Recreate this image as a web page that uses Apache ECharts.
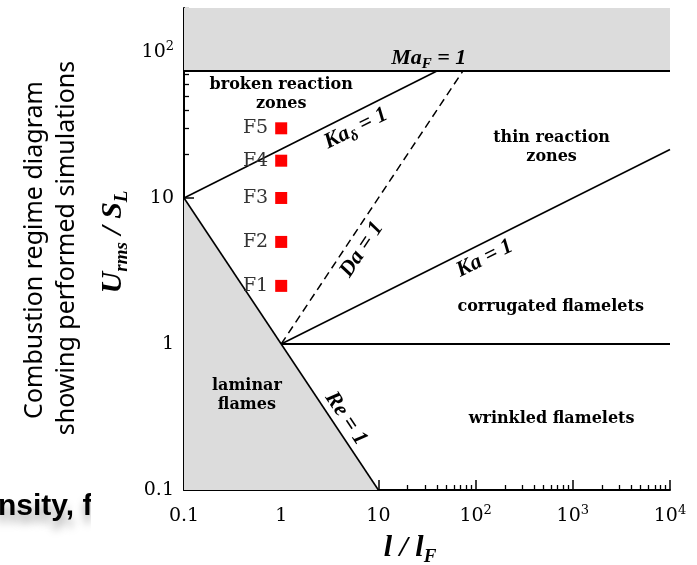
<!DOCTYPE html>
<html>
<head>
<meta charset="utf-8">
<script src="https://cdn.jsdelivr.net/npm/echarts@6/dist/echarts.min.js"></script>
<style>
  html, body { margin: 0; padding: 0; background: #fff; }
  #chart { width: 697px; height: 565px; }
</style>
</head>
<body>
<div id="chart"></div>
<script>
// Regime boundaries, as [l/lF, u'/SL] end points
const reOne = [[0.1, 10], [10, 0.1]];
const kaOne = [[1, 1], [10000, 21.5]];
const kaDeltaOne = [[0.1, 10], [40, 74]];
const daOne = [[1, 1], [74, 74]];
const unitVelocity = [[1, 1], [10000, 1]];
const maOne = [[0.1, 74], [10000, 74]];

// Simulated flames
const flameNames = ['F1', 'F2', 'F3', 'F4', 'F5'];
const flameLength = [1, 1, 1, 1, 1];
const flameVelocity = [2.5, 5, 10, 18, 30];

// Axis ticks
const xMajorTicks = [0.1, 1, 10, 100, 1000, 10000];
const xMinorTicks = [0.2, 0.3, 0.4, 0.5, 0.6, 0.7, 0.8, 0.9,
  2, 3, 4, 5, 6, 7, 8, 9,
  20, 30, 40, 50, 60, 70, 80, 90,
  200, 300, 400, 500, 600, 700, 800, 900,
  2000, 3000, 4000, 5000, 6000, 7000, 8000, 9000];
const yMajorTicks = [0.1, 1, 10, 100];
const yMinorTicks = [0.2, 0.3, 0.4, 0.5, 0.6, 0.7, 0.8, 0.9,
  2, 3, 4, 5, 6, 7, 8, 9,
  20, 30, 40, 50, 60, 70, 80, 90, 200];

const serif = 'DejaVu Serif';
const mathFont = 'Liberation Serif';

function powerLabel(v) {
  const e = Math.round(Math.log10(v));
  if (e >= 2) return '{b|10}{sup|' + e + '}';
  return '{b|' + (e < 0 ? '0.1' : String(Math.round(v))) + '}';
}
const tickRich = {
  b: { fontFamily: serif, fontSize: 19, lineHeight: 24, color: '#000' },
  sup: { fontFamily: serif, fontSize: 13, lineHeight: 13, verticalAlign: 'top', color: '#000' }
};

const mathRich = {
  i: { fontFamily: mathFont, fontWeight: 'bold', fontStyle: 'italic', fontSize: 22, lineHeight: 28, color: '#000' },
  sub: { fontFamily: mathFont, fontWeight: 'bold', fontStyle: 'italic', fontSize: 15, lineHeight: 12, verticalAlign: 'bottom', color: '#000' }
};
const regionStyle = { fontFamily: serif, fontWeight: 'bold', fontSize: 16, lineHeight: 19, color: '#000', align: 'center' };

function boundary(data, extra) {
  return Object.assign({
    type: 'line', data: data, symbol: 'none', silent: true,
    lineStyle: { color: '#000', width: 1.6 }, z: 3
  }, extra || {});
}

function note(pos, text, rotate, style) {
  return {
    value: pos,
    label: Object.assign({ formatter: text, rotate: rotate || 0, opacity: 1 }, style)
  };
}

const majorTick = { inside: true, length: 10, lineStyle: { color: '#000', width: 1.5 } };
const minorTick = { inside: true, length: 5, lineStyle: { color: '#000', width: 1.3 } };

const titleRich = {
  i: { fontFamily: mathFont, fontWeight: 'bold', fontStyle: 'italic', fontSize: 30, lineHeight: 38, fill: '#000' },
  sub: { fontFamily: mathFont, fontWeight: 'bold', fontStyle: 'italic', fontSize: 19, lineHeight: 15, verticalAlign: 'bottom', fill: '#000' }
};

const option = {
  animation: false,
  backgroundColor: '#fff',
  grid: { left: 184, right: 27, top: 8, bottom: 75 },
  xAxis: [
    {
      type: 'log', logBase: 10, min: 0.1, max: 10000, position: 'bottom',
      axisLine: { lineStyle: { color: '#000', width: 2 } },
      axisTick: Object.assign({ customValues: xMajorTicks }, majorTick),
      axisLabel: { customValues: xMajorTicks, formatter: powerLabel, rich: tickRich, margin: 14 },
      splitLine: { show: false }
    },
    {
      type: 'log', logBase: 10, min: 0.1, max: 10000, position: 'bottom',
      axisLine: { show: false },
      axisTick: Object.assign({ customValues: xMinorTicks }, minorTick),
      axisLabel: { show: false },
      splitLine: { show: false }
    }
  ],
  yAxis: [
    {
      type: 'log', logBase: 10, min: 0.1, max: 200, position: 'left',
      axisLine: { lineStyle: { color: '#000', width: 2 } },
      axisTick: Object.assign({ customValues: yMajorTicks }, majorTick),
      axisLabel: { customValues: yMajorTicks, formatter: powerLabel, rich: tickRich, margin: 10 },
      splitLine: { show: false }
    },
    {
      type: 'log', logBase: 10, min: 0.1, max: 200, position: 'left',
      axisLine: { show: false },
      axisTick: Object.assign({ customValues: yMinorTicks }, minorTick),
      axisLabel: { show: false },
      splitLine: { show: false }
    }
  ],
  series: [
    // laminar flames: below Re = 1
    boundary(reOne, { areaStyle: { color: '#dcdcdc', origin: 'start', opacity: 1 }, z: 2 }),
    // beyond the Mach limit
    boundary(maOne, { areaStyle: { color: '#dcdcdc', origin: 'end', opacity: 1 }, lineStyle: { color: '#000', width: 2 }, z: 2 }),
    boundary(kaOne),
    boundary(kaDeltaOne),
    boundary(unitVelocity, { lineStyle: { color: '#000', width: 2 } }),
    boundary(daOne, { lineStyle: { color: '#000', width: 1.5, type: [8, 5] } }),
    {
      type: 'scatter', symbol: 'rect', symbolSize: 12, silent: true, z: 5,
      itemStyle: { color: '#ff0000', opacity: 1 },
      data: flameLength.map((x, i) => ({ name: flameNames[i], value: [x, flameVelocity[i]] })),
      label: {
        show: true, position: 'left', distance: 7, formatter: '{b}', opacity: 1,
        fontFamily: serif, fontSize: 19, color: '#333'
      }
    },
    {
      type: 'scatter', symbolSize: 1, silent: true, z: 6,
      itemStyle: { color: 'rgba(0,0,0,0)', opacity: 1 },
      label: { show: true, position: 'inside', opacity: 1 },
      data: [
        note([33, 91], '{i|Ma}{sub|F}{i| = 1}', 0, { rich: mathRich }),
        note([5.86, 29.9], '{i|Ka}{sub|δ}{i| = 1}', 26.6, { rich: mathRich }),
        note([6.74, 4.43], '{i|Da = 1}', 56.3, { rich: mathRich }),
        note([124, 3.85], '{i|Ka = 1}', 26.6, { rich: mathRich }),
        note([4.63, 0.309], '{i|Re = 1}', -56.3, { rich: mathRich }),
        note([1.0, 51], 'broken reaction\nzones', 0, regionStyle),
        note([605, 22.2], 'thin reaction\nzones', 0, regionStyle),
        note([592, 1.81], 'corrugated flamelets', 0, regionStyle),
        note([605, 0.309], 'wrinkled flamelets', 0, regionStyle),
        note([0.444, 0.443], 'laminar\nflames', 0, regionStyle)
      ]
    }
  ],
  graphic: [
    {
      type: 'text', x: 113, y: 242, rotation: Math.PI / 2, z: 10,
      style: { text: '{i|U}{sub|rms}{i| / S}{sub|L}', align: 'center', verticalAlign: 'middle', rich: titleRich }
    },
    {
      type: 'text', x: 410, y: 548, z: 10,
      style: { text: '{i|l / l}{sub|F}', align: 'center', verticalAlign: 'middle', rich: titleRich }
    },
    {
      type: 'text', x: 35, y: 250, rotation: Math.PI / 2, z: 10,
      style: { text: 'Combustion regime diagram', font: '25px "Noto Sans"', fill: '#000', align: 'center', verticalAlign: 'middle' }
    },
    {
      type: 'text', x: 67, y: 248, rotation: Math.PI / 2, z: 10,
      style: { text: 'showing performed simulations', font: '25px "Noto Sans"', fill: '#000', align: 'center', verticalAlign: 'middle' }
    },
    {
      type: 'text', x: -2, y: 507, z: 10,
      style: {
        text: 'nsity, f', font: 'bold 30px "Liberation Sans"', fill: '#000',
        align: 'left', verticalAlign: 'middle',
        textShadowColor: 'rgba(0,0,0,0.35)', textShadowBlur: 8, textShadowOffsetY: 8
      }
    },
    {
      type: 'rect', z: 11, shape: { x: 91, y: 478, width: 50, height: 62 },
      style: { fill: '#fff' }
    }
  ]
};

const chart = echarts.init(document.getElementById('chart'));
chart.setOption(option);
</script>
</body>
</html>
